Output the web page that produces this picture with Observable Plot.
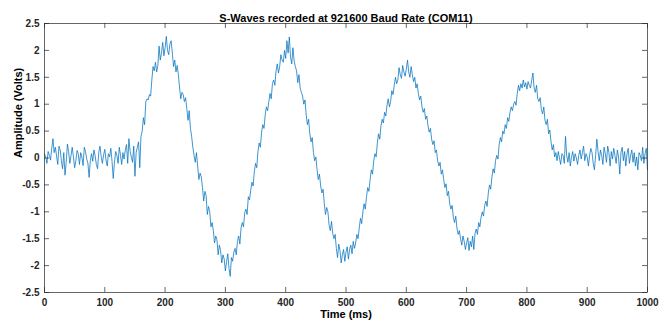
<!DOCTYPE html>
<html><head><meta charset="utf-8">
<script src="https://cdn.jsdelivr.net/npm/d3@7"></script>
<script src="https://cdn.jsdelivr.net/npm/@observablehq/plot@0.6"></script>
<style>
html,body{margin:0;padding:0;background:#fff;}
#chart{width:672px;height:321px;overflow:hidden;}
</style></head><body><div id="chart"></div>
<script>
const title = "S-Waves recorded at 921600 Baud Rate (COM11)";
const xLabel = "Time (ms)";
const yLabel = "Amplitude (Volts)";
const xTicks = [0, 100, 200, 300, 400, 500, 600, 700, 800, 900, 1000];
const yTicks = [-2.5, -2, -1.5, -1, -0.5, 0, 0.5, 1, 1.5, 2, 2.5];
const sampleStepMs = 2;
const amplitude = [
0.08,0.02,-0.1,0.12,0.05,-0.04,0.18,0.36,0.1,0.2,
0.04,-0.12,0.22,0.15,-0.05,-0.2,0.1,-0.32,-0.08,0.26,
0.12,-0.1,0.05,0.2,0.02,-0.18,-0.05,0.14,0.08,-0.12,
0.1,0.02,-0.14,0.2,0.12,-0.02,-0.1,-0.36,-0.05,0.08,
-0.06,0.15,0.04,-0.12,-0.2,0.1,0.22,0.03,-0.1,0.06,
0.16,-0.04,-0.15,0.08,0.02,0.18,-0.06,-0.38,-0.08,0.12,
0.05,-0.1,0.2,0.06,-0.12,0.1,-0.02,0.15,0.25,-0.1,
0.36,0.12,0.02,-0.08,0.22,-0.34,0.1,0.2,0.3,-0.18,
0.4,0.5,0.75,0.62,1.05,1.1,1.08,1.18,1.15,1.45,
1.7,1.62,1.78,1.6,1.72,2.08,1.82,1.95,2.15,1.9,
2.05,2.26,2.0,1.92,2.12,2.18,1.95,1.7,1.82,1.6,
1.72,1.55,1.3,1.1,1.22,1.18,1.05,1.12,0.92,0.7,
0.88,0.55,0.4,0.2,0.05,-0.08,0.1,-0.15,-0.4,-0.28,
-0.35,-0.55,-0.8,-0.62,-0.7,-1.05,-0.9,-1.0,-1.28,-1.2,
-1.35,-1.58,-1.45,-1.52,-1.8,-1.62,-1.72,-1.95,-1.8,-1.88,
-2.1,-1.92,-1.78,-2.05,-2.2,-1.85,-1.92,-1.75,-1.68,-1.8,
-1.55,-1.45,-1.6,-1.3,-1.2,-1.28,-1.02,-0.95,-1.05,-0.72,
-0.78,-0.6,-0.45,-0.52,-0.25,-0.1,-0.18,0.12,0.28,0.2,
0.48,0.62,0.55,0.8,0.95,0.88,1.05,1.2,1.1,1.38,
1.45,1.35,1.62,1.75,1.58,1.7,1.92,1.82,1.78,2.0,
1.85,2.18,1.95,2.25,1.88,1.75,2.05,1.8,1.7,1.62,
1.4,1.55,1.3,1.22,1.15,1.0,1.08,0.8,0.62,0.72,
0.45,0.3,0.38,0.1,-0.05,0.02,-0.22,-0.4,-0.3,-0.52,
-0.65,-0.58,-0.85,-1.05,-0.92,-1.0,-1.25,-1.35,-1.18,-1.4,
-1.5,-1.42,-1.68,-1.85,-1.6,-1.72,-1.95,-1.8,-1.7,-1.92,
-1.75,-1.65,-1.88,-1.7,-1.62,-1.78,-1.55,-1.68,-1.58,-1.42,
-1.5,-1.3,-1.12,-1.22,-1.0,-0.85,-0.95,-0.72,-0.55,-0.62,
-0.4,-0.22,-0.3,-0.05,0.08,0.02,0.28,0.45,0.35,0.6,
0.72,0.65,0.85,0.78,0.98,1.1,0.95,1.05,1.25,1.18,
1.35,1.5,1.38,1.45,1.68,1.55,1.48,1.72,1.6,1.52,
1.65,1.82,1.6,1.5,1.7,1.55,1.42,1.5,1.3,1.38,
1.2,1.08,1.15,0.95,0.85,0.92,0.72,0.78,0.6,0.48,
0.55,0.35,0.25,0.32,0.1,0.15,-0.05,-0.15,-0.08,-0.3,
-0.22,-0.4,-0.55,-0.48,-0.7,-0.62,-0.85,-0.95,-0.88,-1.1,
-1.2,-1.08,-1.3,-1.42,-1.35,-1.5,-1.62,-1.45,-1.55,-1.7,
-1.58,-1.48,-1.72,-1.55,-1.65,-1.45,-1.7,-1.4,-1.32,-1.42,
-1.2,-1.28,-1.1,-1.0,-1.08,-0.88,-0.8,-0.9,-0.65,-0.5,
-0.58,-0.35,-0.2,-0.28,-0.05,0.05,-0.02,0.25,0.38,0.3,
0.5,0.45,0.62,0.55,0.75,0.68,0.85,0.95,0.88,1.0,
1.05,0.98,1.2,1.35,1.25,1.38,1.3,1.45,1.32,1.4,
1.28,1.42,1.35,1.3,1.45,1.58,1.3,1.22,1.35,1.1,
1.05,1.12,0.9,0.82,0.95,0.7,0.62,0.72,0.45,0.52,
0.3,0.15,0.25,0.02,0.1,-0.05,0.12,0.0,-0.12,0.08,
0.05,-0.1,0.4,0.05,-0.08,0.1,-0.15,0.02,0.12,-0.06,
0.08,0.0,-0.12,0.05,0.15,-0.02,0.1,0.22,-0.05,0.08,
0.02,-0.15,0.05,0.18,0.1,-0.1,-0.22,0.05,0.35,0.12,
-0.05,0.15,0.05,-0.12,0.2,0.08,-0.08,0.22,0.1,-0.15,
0.12,-0.02,0.18,0.05,-0.1,0.15,0.02,-0.3,0.1,0.2,
-0.05,0.12,-0.15,0.08,0.18,-0.1,0.05,0.15,-0.08,0.1,
-0.15,0.02,-0.22,0.1,0.05,-0.05,0.2,-0.1,0.08,0.18,
-0.22
];
const samples = amplitude.map((v, i) => ({time: i * sampleStepMs, amplitude: v}));

const font = "'Liberation Sans', Arial, Helvetica, sans-serif";
const axisColor = "#262626";
const lineColor = "#0072BD";
const W = 672, H = 321, mL = 44, mR = 25, mT = 23, mB = 29;
const tickLen = 5;
const innerW = W - mL - mR, innerH = H - mT - mB;
const fmt = d => String(d);

const chart = Plot.plot({
  width: W, height: H,
  marginLeft: mL, marginRight: mR, marginTop: mT, marginBottom: mB,
  style: {fontFamily: font, fontSize: "10px", fontWeight: "bold", color: axisColor, background: "#fff", overflow: "visible"},
  x: {domain: [0, 1000], axis: null},
  y: {domain: [-2.5, 2.5], axis: null},
  marks: [
    Plot.line(samples, {x: "time", y: "amplitude", stroke: lineColor, strokeWidth: 0.75}),
    Plot.frame({stroke: axisColor, strokeWidth: 0.7}),
    Plot.tickX(xTicks, {x: d => d, stroke: axisColor, strokeWidth: 0.7, insetTop: innerH - tickLen}),
    Plot.tickX(xTicks, {x: d => d, stroke: axisColor, strokeWidth: 0.7, insetBottom: innerH - tickLen}),
    Plot.tickY(yTicks, {y: d => d, stroke: axisColor, strokeWidth: 0.7, insetRight: innerW - tickLen}),
    Plot.tickY(yTicks, {y: d => d, stroke: axisColor, strokeWidth: 0.7, insetLeft: innerW - tickLen}),
    Plot.axisX(xTicks, {tickSize: 0, tickPadding: 6, tickFormat: fmt, label: null, fontWeight: "bold", fill: axisColor}),
    Plot.axisY(yTicks, {tickSize: 0, tickPadding: 5, tickFormat: fmt, label: null, fontWeight: "bold", fill: axisColor}),
    Plot.text([title], {text: d => d, frameAnchor: "top", dy: -9, fontSize: 11, fontWeight: "bold", fill: "#000"}),
    Plot.text([xLabel], {text: d => d, frameAnchor: "bottom", dy: 25, fontSize: 11, fontWeight: "bold", fill: "#000"}),
    Plot.text([yLabel], {text: d => d, frameAnchor: "left", dx: -26, rotate: -90, fontSize: 11, fontWeight: "bold", fill: "#000"})
  ]
});
document.getElementById("chart").appendChild(chart);
</script>
</body></html>
